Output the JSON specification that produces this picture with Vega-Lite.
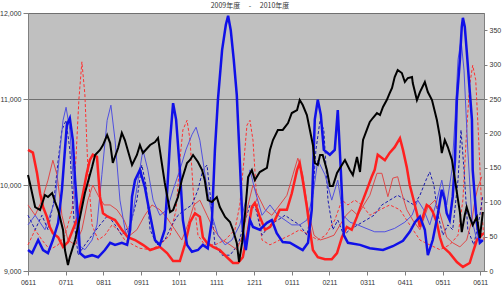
{
"$schema":"https://vega.github.io/schema/vega-lite/v6.json",
"width":456,"height":258,
"autosize":{"type":"none"},
"padding":{"left":28,"top":13,"right":19,"bottom":23},
"background":"white",
"config":{"view":{"fill":"#c0c0c0","stroke":"#808080","strokeWidth":1},
"axis":{"labelFont":"Liberation Sans","labelFontSize":7,"labelColor":"#333333","domainColor":"#808080","tickColor":"#808080","grid":false,"title":null}},
"title":{"text":"2009年度　 - 　2010年度","fontSize":7,"font":"Noto Sans CJK JP","fontWeight":"normal","offset":0,"dx":-6,"color":"#333333"},
"datasets":{
"bk":[{"t":0,"v":10116},{"t":0.05,"v":10023},{"t":0.19,"v":9744},{"t":0.32,"v":9709},{"t":0.45,"v":9884},{"t":0.53,"v":9860},{"t":0.64,"v":9907},{"t":0.72,"v":9802},{"t":0.8,"v":9709},{"t":0.93,"v":9477},{"t":0.98,"v":9244},{"t":1.06,"v":9070},{"t":1.11,"v":9163},{"t":1.25,"v":9360},{"t":1.38,"v":9628},{"t":1.51,"v":9907},{"t":1.7,"v":10209},{"t":1.78,"v":10349},{"t":1.91,"v":10407},{"t":1.99,"v":10465},{"t":2.1,"v":10581},{"t":2.18,"v":10488},{"t":2.25,"v":10256},{"t":2.39,"v":10430},{"t":2.49,"v":10605},{"t":2.57,"v":10523},{"t":2.76,"v":10233},{"t":2.89,"v":10349},{"t":2.97,"v":10465},{"t":3.05,"v":10372},{"t":3.24,"v":10465},{"t":3.37,"v":10500},{"t":3.45,"v":10547},{"t":3.55,"v":10256},{"t":3.63,"v":10023},{"t":3.77,"v":9686},{"t":3.85,"v":9709},{"t":3.98,"v":9860},{"t":4.08,"v":10058},{"t":4.22,"v":10256},{"t":4.3,"v":10291},{"t":4.38,"v":10349},{"t":4.51,"v":10267},{"t":4.62,"v":10174},{"t":4.69,"v":10058},{"t":4.77,"v":9826},{"t":4.88,"v":9802},{"t":5.01,"v":9860},{"t":5.09,"v":9744},{"t":5.23,"v":9628},{"t":5.36,"v":9570},{"t":5.44,"v":9477},{"t":5.54,"v":9326},{"t":5.6,"v":9105},{"t":5.68,"v":9326},{"t":5.76,"v":9674},{"t":5.84,"v":10093},{"t":5.94,"v":10174},{"t":6.02,"v":10058},{"t":6.15,"v":10151},{"t":6.34,"v":10198},{"t":6.42,"v":10407},{"t":6.5,"v":10523},{"t":6.63,"v":10640},{"t":6.76,"v":10640},{"t":6.9,"v":10721},{"t":7.0,"v":10837},{"t":7.14,"v":10872},{"t":7.21,"v":10988},{"t":7.29,"v":10930},{"t":7.4,"v":10814},{"t":7.48,"v":10640},{"t":7.56,"v":10465},{"t":7.61,"v":10256},{"t":7.69,"v":10233},{"t":7.75,"v":10349},{"t":7.82,"v":10349},{"t":7.93,"v":10174},{"t":8.01,"v":9988},{"t":8.09,"v":9988},{"t":8.2,"v":10140},{"t":8.28,"v":10198},{"t":8.41,"v":10291},{"t":8.54,"v":10174},{"t":8.62,"v":10116},{"t":8.73,"v":10326},{"t":8.81,"v":10151},{"t":8.89,"v":10523},{"t":8.99,"v":10640},{"t":9.07,"v":10733},{"t":9.15,"v":10779},{"t":9.26,"v":10837},{"t":9.34,"v":10814},{"t":9.42,"v":10907},{"t":9.52,"v":10988},{"t":9.6,"v":11070},{"t":9.66,"v":11128},{"t":9.73,"v":11256},{"t":9.81,"v":11337},{"t":9.92,"v":11302},{"t":10.0,"v":11198},{"t":10.08,"v":11244},{"t":10.19,"v":11256},{"t":10.21,"v":11186},{"t":10.32,"v":10988},{"t":10.4,"v":11081},{"t":10.53,"v":11198},{"t":10.61,"v":11081},{"t":10.72,"v":10988},{"t":10.85,"v":10756},{"t":10.93,"v":10558},{"t":10.98,"v":10372},{"t":11.06,"v":10523},{"t":11.14,"v":10442},{"t":11.25,"v":10291},{"t":11.33,"v":10058},{"t":11.41,"v":9826},{"t":11.46,"v":9686},{"t":11.51,"v":9453},{"t":11.59,"v":9651},{"t":11.64,"v":9744},{"t":11.72,"v":9628},{"t":11.8,"v":9535},{"t":11.91,"v":9628},{"t":11.99,"v":9384},{"t":12.07,"v":9686}],
"bb":[{"t":0,"v":30.5},{"t":0.11,"v":26},{"t":0.27,"v":45},{"t":0.4,"v":30.5},{"t":0.53,"v":26},{"t":0.66,"v":45},{"t":0.8,"v":70},{"t":0.9,"v":118},{"t":0.98,"v":176},{"t":1.03,"v":212},{"t":1.11,"v":222},{"t":1.19,"v":190},{"t":1.25,"v":132},{"t":1.33,"v":74},{"t":1.38,"v":26},{"t":1.51,"v":20},{"t":1.7,"v":23},{"t":1.86,"v":20},{"t":2.04,"v":30.5},{"t":2.18,"v":41},{"t":2.31,"v":38},{"t":2.49,"v":41},{"t":2.63,"v":38},{"t":2.71,"v":60},{"t":2.76,"v":108},{"t":2.84,"v":132},{"t":2.97,"v":147},{"t":3.1,"v":122},{"t":3.24,"v":81},{"t":3.37,"v":45},{"t":3.5,"v":38},{"t":3.63,"v":60},{"t":3.71,"v":132},{"t":3.77,"v":190},{"t":3.85,"v":244},{"t":3.93,"v":220},{"t":4.03,"v":147},{"t":4.11,"v":74},{"t":4.22,"v":38},{"t":4.35,"v":28},{"t":4.51,"v":30.5},{"t":4.64,"v":38},{"t":4.77,"v":33},{"t":4.88,"v":74},{"t":4.96,"v":176},{"t":5.04,"v":249},{"t":5.15,"v":321},{"t":5.25,"v":358},{"t":5.31,"v":371},{"t":5.38,"v":350},{"t":5.46,"v":307},{"t":5.54,"v":256},{"t":5.62,"v":161},{"t":5.7,"v":60},{"t":5.78,"v":30.5},{"t":5.89,"v":74},{"t":5.97,"v":64},{"t":6.15,"v":60},{"t":6.34,"v":70},{"t":6.47,"v":74},{"t":6.6,"v":55},{"t":6.76,"v":42},{"t":6.95,"v":41},{"t":7.14,"v":35},{"t":7.29,"v":30.5},{"t":7.43,"v":41},{"t":7.53,"v":89},{"t":7.61,"v":220},{"t":7.69,"v":249},{"t":7.77,"v":227},{"t":7.85,"v":176},{"t":8.01,"v":169},{"t":8.14,"v":176},{"t":8.22,"v":234},{"t":8.3,"v":147},{"t":8.38,"v":52},{"t":8.49,"v":41},{"t":8.81,"v":38},{"t":9.07,"v":33},{"t":9.42,"v":30.5},{"t":9.68,"v":36},{"t":9.95,"v":44},{"t":10.13,"v":57},{"t":10.27,"v":71},{"t":10.4,"v":79},{"t":10.53,"v":60},{"t":10.61,"v":23},{"t":10.74,"v":45},{"t":10.88,"v":84},{"t":10.98,"v":118},{"t":11.06,"v":103},{"t":11.11,"v":84},{"t":11.19,"v":74},{"t":11.27,"v":108},{"t":11.33,"v":161},{"t":11.38,"v":249},{"t":11.46,"v":307},{"t":11.51,"v":355},{"t":11.54,"v":368},{"t":11.59,"v":355},{"t":11.64,"v":321},{"t":11.72,"v":263},{"t":11.78,"v":220},{"t":11.8,"v":147},{"t":11.91,"v":70},{"t":11.99,"v":41},{"t":12.07,"v":45}],
"rk":[{"t":0,"v":176},{"t":0.13,"v":172},{"t":0.24,"v":142},{"t":0.32,"v":113},{"t":0.4,"v":93},{"t":0.5,"v":79},{"t":0.58,"v":64},{"t":0.66,"v":55},{"t":0.8,"v":49},{"t":0.93,"v":35},{"t":1.06,"v":42},{"t":1.19,"v":60},{"t":1.33,"v":79},{"t":1.46,"v":113},{"t":1.56,"v":142},{"t":1.64,"v":161},{"t":1.72,"v":169},{"t":1.83,"v":166},{"t":1.91,"v":108},{"t":1.99,"v":84},{"t":2.12,"v":79},{"t":2.31,"v":74},{"t":2.49,"v":60},{"t":2.65,"v":49},{"t":2.84,"v":45},{"t":3.05,"v":38},{"t":3.24,"v":30.5},{"t":3.5,"v":35},{"t":3.69,"v":26},{"t":3.85,"v":14.5},{"t":4.03,"v":14.5},{"t":4.16,"v":38},{"t":4.3,"v":71},{"t":4.43,"v":84},{"t":4.56,"v":79},{"t":4.64,"v":49},{"t":4.75,"v":41},{"t":4.91,"v":35},{"t":5.09,"v":30.5},{"t":5.28,"v":20},{"t":5.44,"v":11.6},{"t":5.57,"v":11.6},{"t":5.7,"v":20},{"t":5.84,"v":60},{"t":5.94,"v":93},{"t":6.02,"v":99},{"t":6.15,"v":79},{"t":6.29,"v":60},{"t":6.42,"v":64},{"t":6.55,"v":74},{"t":6.68,"v":89},{"t":6.87,"v":89},{"t":7.0,"v":113},{"t":7.14,"v":147},{"t":7.21,"v":157},{"t":7.29,"v":132},{"t":7.4,"v":93},{"t":7.48,"v":60},{"t":7.56,"v":30.5},{"t":7.69,"v":20},{"t":7.88,"v":17},{"t":8.06,"v":17},{"t":8.2,"v":26},{"t":8.33,"v":49},{"t":8.46,"v":64},{"t":8.59,"v":60},{"t":8.73,"v":79},{"t":8.86,"v":99},{"t":8.99,"v":118},{"t":9.12,"v":137},{"t":9.2,"v":147},{"t":9.28,"v":169},{"t":9.47,"v":161},{"t":9.6,"v":172},{"t":9.73,"v":180},{"t":9.87,"v":193},{"t":9.95,"v":176},{"t":10.05,"v":151},{"t":10.13,"v":125},{"t":10.21,"v":108},{"t":10.32,"v":84},{"t":10.4,"v":64},{"t":10.48,"v":79},{"t":10.58,"v":96},{"t":10.66,"v":93},{"t":10.74,"v":86},{"t":10.85,"v":70},{"t":10.93,"v":49},{"t":11.01,"v":35},{"t":11.19,"v":26},{"t":11.38,"v":13},{"t":11.54,"v":6},{"t":11.72,"v":11.6},{"t":11.8,"v":26},{"t":11.91,"v":45},{"t":11.99,"v":49},{"t":12.07,"v":55}],
"bt":[{"t":0,"v":67},{"t":0.19,"v":81},{"t":0.45,"v":60},{"t":0.72,"v":103},{"t":0.85,"v":176},{"t":0.93,"v":219},{"t":1.01,"v":238},{"t":1.11,"v":205},{"t":1.22,"v":118},{"t":1.33,"v":38},{"t":1.51,"v":31},{"t":1.7,"v":45},{"t":1.83,"v":67},{"t":1.96,"v":140},{"t":2.1,"v":219},{"t":2.2,"v":241},{"t":2.31,"v":190},{"t":2.44,"v":103},{"t":2.6,"v":52},{"t":2.76,"v":74},{"t":2.92,"v":132},{"t":3.05,"v":176},{"t":3.18,"v":147},{"t":3.32,"v":103},{"t":3.5,"v":81},{"t":3.69,"v":89},{"t":3.85,"v":118},{"t":4.03,"v":147},{"t":4.19,"v":176},{"t":4.35,"v":198},{"t":4.46,"v":209},{"t":4.56,"v":190},{"t":4.72,"v":132},{"t":4.88,"v":81},{"t":5.04,"v":52},{"t":5.23,"v":38},{"t":5.41,"v":45},{"t":5.62,"v":67},{"t":5.78,"v":103},{"t":5.89,"v":147},{"t":6.02,"v":118},{"t":6.21,"v":81},{"t":6.42,"v":96},{"t":6.63,"v":81},{"t":6.82,"v":74},{"t":7.0,"v":67},{"t":7.21,"v":67},{"t":7.4,"v":74},{"t":7.56,"v":110},{"t":7.69,"v":161},{"t":7.88,"v":140},{"t":8.06,"v":103},{"t":8.22,"v":132},{"t":8.36,"v":81},{"t":8.54,"v":71},{"t":8.75,"v":67},{"t":8.97,"v":62},{"t":9.2,"v":57},{"t":9.47,"v":57},{"t":9.73,"v":62},{"t":10.0,"v":71},{"t":10.19,"v":81},{"t":10.34,"v":103},{"t":10.5,"v":89},{"t":10.66,"v":67},{"t":10.82,"v":96},{"t":10.98,"v":132},{"t":11.11,"v":96},{"t":11.25,"v":147},{"t":11.33,"v":219},{"t":11.41,"v":307},{"t":11.49,"v":336},{"t":11.57,"v":292},{"t":11.67,"v":176},{"t":11.78,"v":74},{"t":11.91,"v":45},{"t":12.07,"v":52}],
"rt":[{"t":0,"v":96},{"t":0.19,"v":81},{"t":0.37,"v":103},{"t":0.53,"v":132},{"t":0.66,"v":161},{"t":0.77,"v":140},{"t":0.9,"v":81},{"t":1.06,"v":45},{"t":1.25,"v":38},{"t":1.43,"v":60},{"t":1.59,"v":103},{"t":1.72,"v":125},{"t":1.86,"v":110},{"t":2.02,"v":96},{"t":2.18,"v":96},{"t":2.36,"v":89},{"t":2.55,"v":74},{"t":2.71,"v":52},{"t":2.89,"v":60},{"t":3.1,"v":81},{"t":3.29,"v":96},{"t":3.5,"v":89},{"t":3.69,"v":77},{"t":3.9,"v":60},{"t":4.08,"v":45},{"t":4.24,"v":67},{"t":4.4,"v":96},{"t":4.56,"v":103},{"t":4.75,"v":81},{"t":4.93,"v":60},{"t":5.15,"v":45},{"t":5.36,"v":38},{"t":5.54,"v":31},{"t":5.7,"v":52},{"t":5.84,"v":96},{"t":5.97,"v":125},{"t":6.1,"v":110},{"t":6.29,"v":89},{"t":6.47,"v":81},{"t":6.68,"v":96},{"t":6.87,"v":110},{"t":7.03,"v":140},{"t":7.16,"v":164},{"t":7.29,"v":140},{"t":7.43,"v":89},{"t":7.59,"v":52},{"t":7.75,"v":45},{"t":7.93,"v":48},{"t":8.12,"v":52},{"t":8.28,"v":67},{"t":8.44,"v":81},{"t":8.59,"v":89},{"t":8.75,"v":81},{"t":8.91,"v":96},{"t":9.07,"v":110},{"t":9.26,"v":142},{"t":9.39,"v":142},{"t":9.55,"v":108},{"t":9.68,"v":135},{"t":9.81,"v":137},{"t":9.92,"v":113},{"t":10.05,"v":89},{"t":10.21,"v":74},{"t":10.4,"v":60},{"t":10.61,"v":93},{"t":10.8,"v":103},{"t":10.93,"v":84},{"t":11.11,"v":49},{"t":11.27,"v":41},{"t":11.46,"v":35},{"t":11.64,"v":45},{"t":11.78,"v":74},{"t":11.86,"v":103},{"t":11.94,"v":122},{"t":12.04,"v":137}],
"rd":[{"t":0,"v":38},{"t":0.19,"v":60},{"t":0.37,"v":45},{"t":0.58,"v":31},{"t":0.8,"v":38},{"t":0.98,"v":52},{"t":1.17,"v":89},{"t":1.27,"v":161},{"t":1.35,"v":249},{"t":1.43,"v":304},{"t":1.51,"v":256},{"t":1.59,"v":147},{"t":1.7,"v":67},{"t":1.86,"v":45},{"t":2.04,"v":52},{"t":2.23,"v":67},{"t":2.39,"v":60},{"t":2.57,"v":45},{"t":2.79,"v":38},{"t":2.97,"v":33},{"t":3.24,"v":31},{"t":3.5,"v":38},{"t":3.77,"v":52},{"t":3.93,"v":89},{"t":4.03,"v":161},{"t":4.11,"v":205},{"t":4.22,"v":219},{"t":4.3,"v":190},{"t":4.4,"v":103},{"t":4.51,"v":52},{"t":4.69,"v":38},{"t":4.96,"v":38},{"t":5.23,"v":45},{"t":5.49,"v":60},{"t":5.62,"v":96},{"t":5.73,"v":161},{"t":5.81,"v":212},{"t":5.89,"v":219},{"t":5.97,"v":190},{"t":6.07,"v":103},{"t":6.21,"v":45},{"t":6.42,"v":38},{"t":6.68,"v":45},{"t":6.95,"v":52},{"t":7.21,"v":60},{"t":7.48,"v":52},{"t":7.69,"v":45},{"t":7.9,"v":52},{"t":8.14,"v":74},{"t":8.33,"v":103},{"t":8.49,"v":96},{"t":8.67,"v":103},{"t":8.86,"v":96},{"t":9.07,"v":81},{"t":9.34,"v":89},{"t":9.6,"v":96},{"t":9.87,"v":89},{"t":10.13,"v":67},{"t":10.4,"v":45},{"t":10.66,"v":38},{"t":10.93,"v":31},{"t":11.19,"v":38},{"t":11.41,"v":52},{"t":11.54,"v":103},{"t":11.64,"v":205},{"t":11.72,"v":270},{"t":11.8,"v":299},{"t":11.88,"v":278},{"t":11.96,"v":190},{"t":12.04,"v":89},{"t":12.1,"v":45}],
"bd":[{"t":0,"v":81},{"t":0.19,"v":60},{"t":0.37,"v":81},{"t":0.53,"v":60},{"t":0.69,"v":103},{"t":0.8,"v":161},{"t":0.9,"v":205},{"t":1.01,"v":219},{"t":1.11,"v":176},{"t":1.22,"v":74},{"t":1.33,"v":23},{"t":1.51,"v":38},{"t":1.7,"v":52},{"t":1.91,"v":67},{"t":2.12,"v":81},{"t":2.31,"v":67},{"t":2.49,"v":52},{"t":2.71,"v":67},{"t":2.89,"v":103},{"t":3.02,"v":154},{"t":3.13,"v":125},{"t":3.24,"v":60},{"t":3.42,"v":38},{"t":3.63,"v":45},{"t":3.82,"v":67},{"t":3.98,"v":81},{"t":4.16,"v":89},{"t":4.35,"v":96},{"t":4.51,"v":118},{"t":4.64,"v":147},{"t":4.75,"v":154},{"t":4.85,"v":103},{"t":4.96,"v":38},{"t":5.15,"v":23},{"t":5.36,"v":23},{"t":5.57,"v":38},{"t":5.73,"v":67},{"t":5.89,"v":96},{"t":6.05,"v":89},{"t":6.21,"v":52},{"t":6.42,"v":67},{"t":6.63,"v":74},{"t":6.82,"v":81},{"t":7.0,"v":74},{"t":7.21,"v":67},{"t":7.4,"v":52},{"t":7.53,"v":89},{"t":7.64,"v":176},{"t":7.75,"v":219},{"t":7.85,"v":205},{"t":7.96,"v":103},{"t":8.09,"v":60},{"t":8.22,"v":74},{"t":8.38,"v":52},{"t":8.54,"v":60},{"t":8.75,"v":67},{"t":8.97,"v":74},{"t":9.18,"v":81},{"t":9.39,"v":96},{"t":9.6,"v":103},{"t":9.81,"v":110},{"t":10.03,"v":103},{"t":10.24,"v":96},{"t":10.4,"v":110},{"t":10.56,"v":132},{"t":10.66,"v":144},{"t":10.77,"v":125},{"t":10.88,"v":81},{"t":11.01,"v":52},{"t":11.14,"v":67},{"t":11.27,"v":60},{"t":11.41,"v":132},{"t":11.49,"v":205},{"t":11.57,"v":147},{"t":11.67,"v":60},{"t":11.83,"v":38},{"t":11.99,"v":81},{"t":12.07,"v":110}]
},
"layer":[
{"encoding":{
"x":{"field":"t","type":"quantitative","scale":{"domain":[0,12.1],"nice":false,"zero":false},
"axis":{"values":[0,1,2,3,4,5,6,7,8,9,10,11,12],"labelExpr":"['0611','0711','0811','0911','1011','1111','1211','0111','0211','0311','0411','0511','0611'][datum.value]","tickSize":4,"labelPadding":3,"labelFlush":false}},
"y":{"field":"v","type":"quantitative","scale":{"domain":[0,375],"nice":false,"zero":false},
"axis":{"orient":"right","values":[0,50,100,150,200,250,300,350],"tickSize":3,"labelPadding":2}}},
"layer":[
{"data":{"name":"rd"},"mark":{"type":"line","color":"#ff3030","strokeWidth":1,"strokeDash":[3,2]}},
{"data":{"name":"bd"},"mark":{"type":"line","color":"#1818b0","strokeWidth":1,"strokeDash":[3,2]}},
{"data":{"name":"rt"},"mark":{"type":"line","color":"#e04848","strokeWidth":1}},
{"data":{"name":"bt"},"mark":{"type":"line","color":"#5050e0","strokeWidth":1}},
{"data":{"name":"rk"},"mark":{"type":"line","color":"#ff2020","strokeWidth":2.5}},
{"data":{"name":"bb"},"mark":{"type":"line","color":"#1010e8","strokeWidth":2.5}}
]},
{"data":{"name":"bk"},"mark":{"type":"line","color":"#000000","strokeWidth":2},
"encoding":{
"x":{"field":"t","type":"quantitative","scale":{"domain":[0,12.1],"nice":false,"zero":false},
"axis":{"values":[0,1,2,3,4,5,6,7,8,9,10,11,12],"labelExpr":"['0611','0711','0811','0911','1011','1111','1211','0111','0211','0311','0411','0511','0611'][datum.value]","tickSize":4,"labelPadding":3,"labelFlush":false}},
"y":{"field":"v","type":"quantitative","scale":{"domain":[9000,12000],"nice":false,"zero":false},
"axis":{"orient":"left","values":[9000,10000,11000,12000],"grid":true,"gridColor":"#707070","gridWidth":1,"tickSize":5,"labelPadding":2}}}}
],
"resolve":{"scale":{"y":"independent"}}
}
